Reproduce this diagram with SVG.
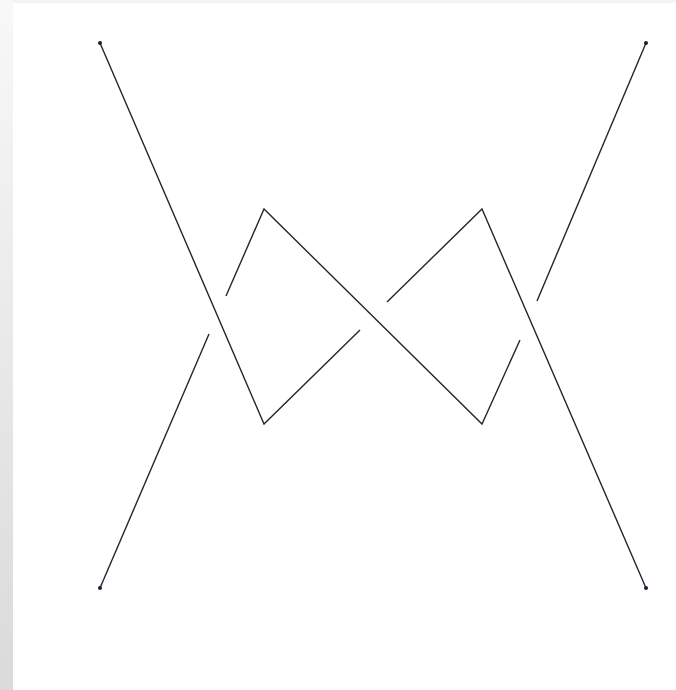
<svg xmlns="http://www.w3.org/2000/svg" width="676" height="690" viewBox="0 0 676 690">
  <defs>
    <linearGradient id="side" x1="0" y1="0" x2="0" y2="1">
      <stop offset="0" stop-color="#f8f8f8"/>
      <stop offset="1" stop-color="#dadada"/>
    </linearGradient>
    <style>
      .s { fill: none; stroke: #262626; stroke-width: 1.4; stroke-linecap: butt; stroke-linejoin: miter; }
      .pt { fill: #1a1a3a; }
    </style>
  </defs>
  <rect x="0" y="0" width="676" height="690" fill="#ffffff"/>
  <rect x="0" y="0" width="676" height="3" fill="#f4f4f4"/>
  <rect x="0" y="0" width="13" height="690" fill="url(#side)"/>
  <g id="connectors">
    <polyline class="s" points="100,43 264,424 360,330"/>
    <polyline class="s" points="387,302 482,209 646,588"/>
    <polyline class="s" points="646,43 537,301"/>
    <polyline class="s" points="520,340 482,424 264,209 226,296"/>
    <polyline class="s" points="209,334 100,588"/>
  </g>
  <g id="p1"><circle class="pt" cx="100" cy="43" r="2"/></g>
  <g id="p2"><circle class="pt" cx="646" cy="43" r="2"/></g>
  <g id="p3"><circle class="pt" cx="100" cy="588" r="2"/></g>
  <g id="p4"><circle class="pt" cx="646" cy="588" r="2"/></g>
</svg>
